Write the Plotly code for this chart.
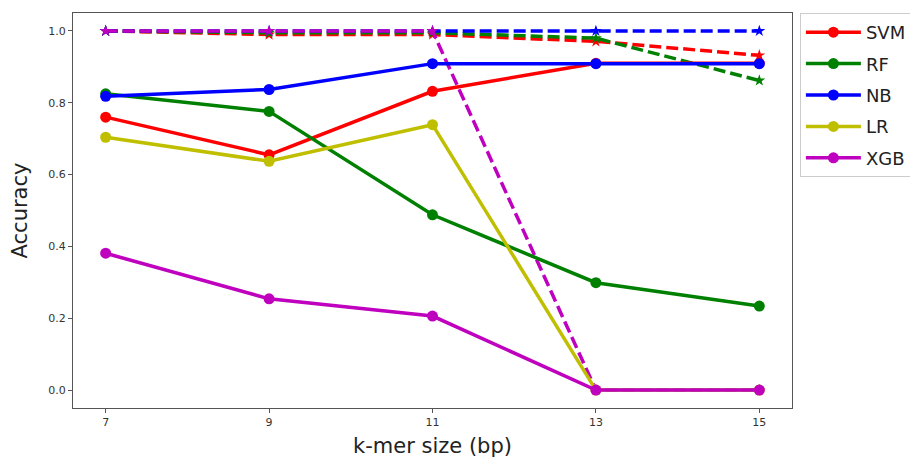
import plotly.graph_objects as go

kmer = [7, 9, 11, 13, 15]
models = ["SVM", "RF", "NB", "LR", "XGB"]
colors = {"SVM": "#ff0000", "RF": "#008000", "NB": "#0000ff", "LR": "#bfbf00", "XGB": "#bf00bf"}

# solid lines (circle markers)
svm_solid = [0.76, 0.655, 0.832, 0.91, 0.91]
rf_solid = [0.825, 0.776, 0.488, 0.299, 0.234]
nb_solid = [0.818, 0.837, 0.909, 0.909, 0.909]
lr_solid = [0.704, 0.637, 0.739, 0.0, 0.0]
xgb_solid = [0.381, 0.254, 0.206, 0.0, 0.0]

# dashed lines (star markers)
svm_dash = [1.0, 0.99, 0.99, 0.971, 0.932]
rf_dash = [1.0, 0.995, 0.995, 0.98, 0.862]
nb_dash = [1.0, 1.0, 1.0, 1.0, 1.0]
xgb_dash = [1.0, 1.0, 1.0, 0.0, 0.0]

solid = {"SVM": svm_solid, "RF": rf_solid, "NB": nb_solid, "LR": lr_solid, "XGB": xgb_solid}
dashed = {"SVM": svm_dash, "RF": rf_dash, "NB": nb_dash, "XGB": xgb_dash}

x_ticks = [7, 9, 11, 13, 15]
y_ticks = [0.0, 0.2, 0.4, 0.6, 0.8, 1.0]
y_tick_text = ["0.0", "0.2", "0.4", "0.6", "0.8", "1.0"]

fig = go.Figure()
# dashed lines drawn first (underneath)
for m in ["SVM", "RF", "NB", "XGB"]:
    fig.add_trace(go.Scatter(
        x=kmer, y=dashed[m], name=m + " (dashed)", mode="lines+markers",
        line=dict(color=colors[m], width=3.5, dash="12px,5px"),
        marker=dict(symbol="star", size=9, color=colors[m]),
        legendgroup=m + "_d", showlegend=False,
    ))
# solid lines on top
for m in models:
    fig.add_trace(go.Scatter(
        x=kmer, y=solid[m], name=m, mode="lines+markers",
        line=dict(color=colors[m], width=3.5),
        marker=dict(symbol="circle", size=11, color=colors[m]),
        legendgroup=m, showlegend=True,
    ))

fig.update_layout(
    width=910, height=459,
    margin=dict(l=73, r=118, t=13, b=51, autoexpand=False),
    paper_bgcolor="white", plot_bgcolor="white",
    font=dict(family="DejaVu Sans", color="#222"),
    showlegend=True,
    legend=dict(
        x=1.011, y=1.0, xanchor="left", yanchor="top",
        font=dict(size=18, color="#222"),
        bordercolor="#cccccc", borderwidth=1,
        bgcolor="white",
        tracegroupgap=5,
        itemwidth=55,
    ),
    xaxis=dict(
        range=[6.6, 15.4], tickvals=x_ticks, ticktext=[str(t) for t in x_ticks],
        showgrid=False, zeroline=False,
        showline=True, linecolor="#555", linewidth=1, mirror=True,
        ticks="outside", ticklen=4, tickcolor="#555",
        tickfont=dict(size=11, color="#333"),
        title=dict(text="k-mer size (bp)", font=dict(size=21, color="#222"), standoff=10),
    ),
    yaxis=dict(
        range=[-0.05, 1.05], tickvals=y_ticks, ticktext=y_tick_text,
        showgrid=False, zeroline=False,
        showline=True, linecolor="#555", linewidth=1, mirror=True,
        ticks="outside", ticklen=4, tickcolor="#555",
        tickfont=dict(size=11, color="#333"),
        title=dict(text="Accuracy", font=dict(size=21, color="#222"), standoff=14),
    ),
)

fig.write_html("out.html")
